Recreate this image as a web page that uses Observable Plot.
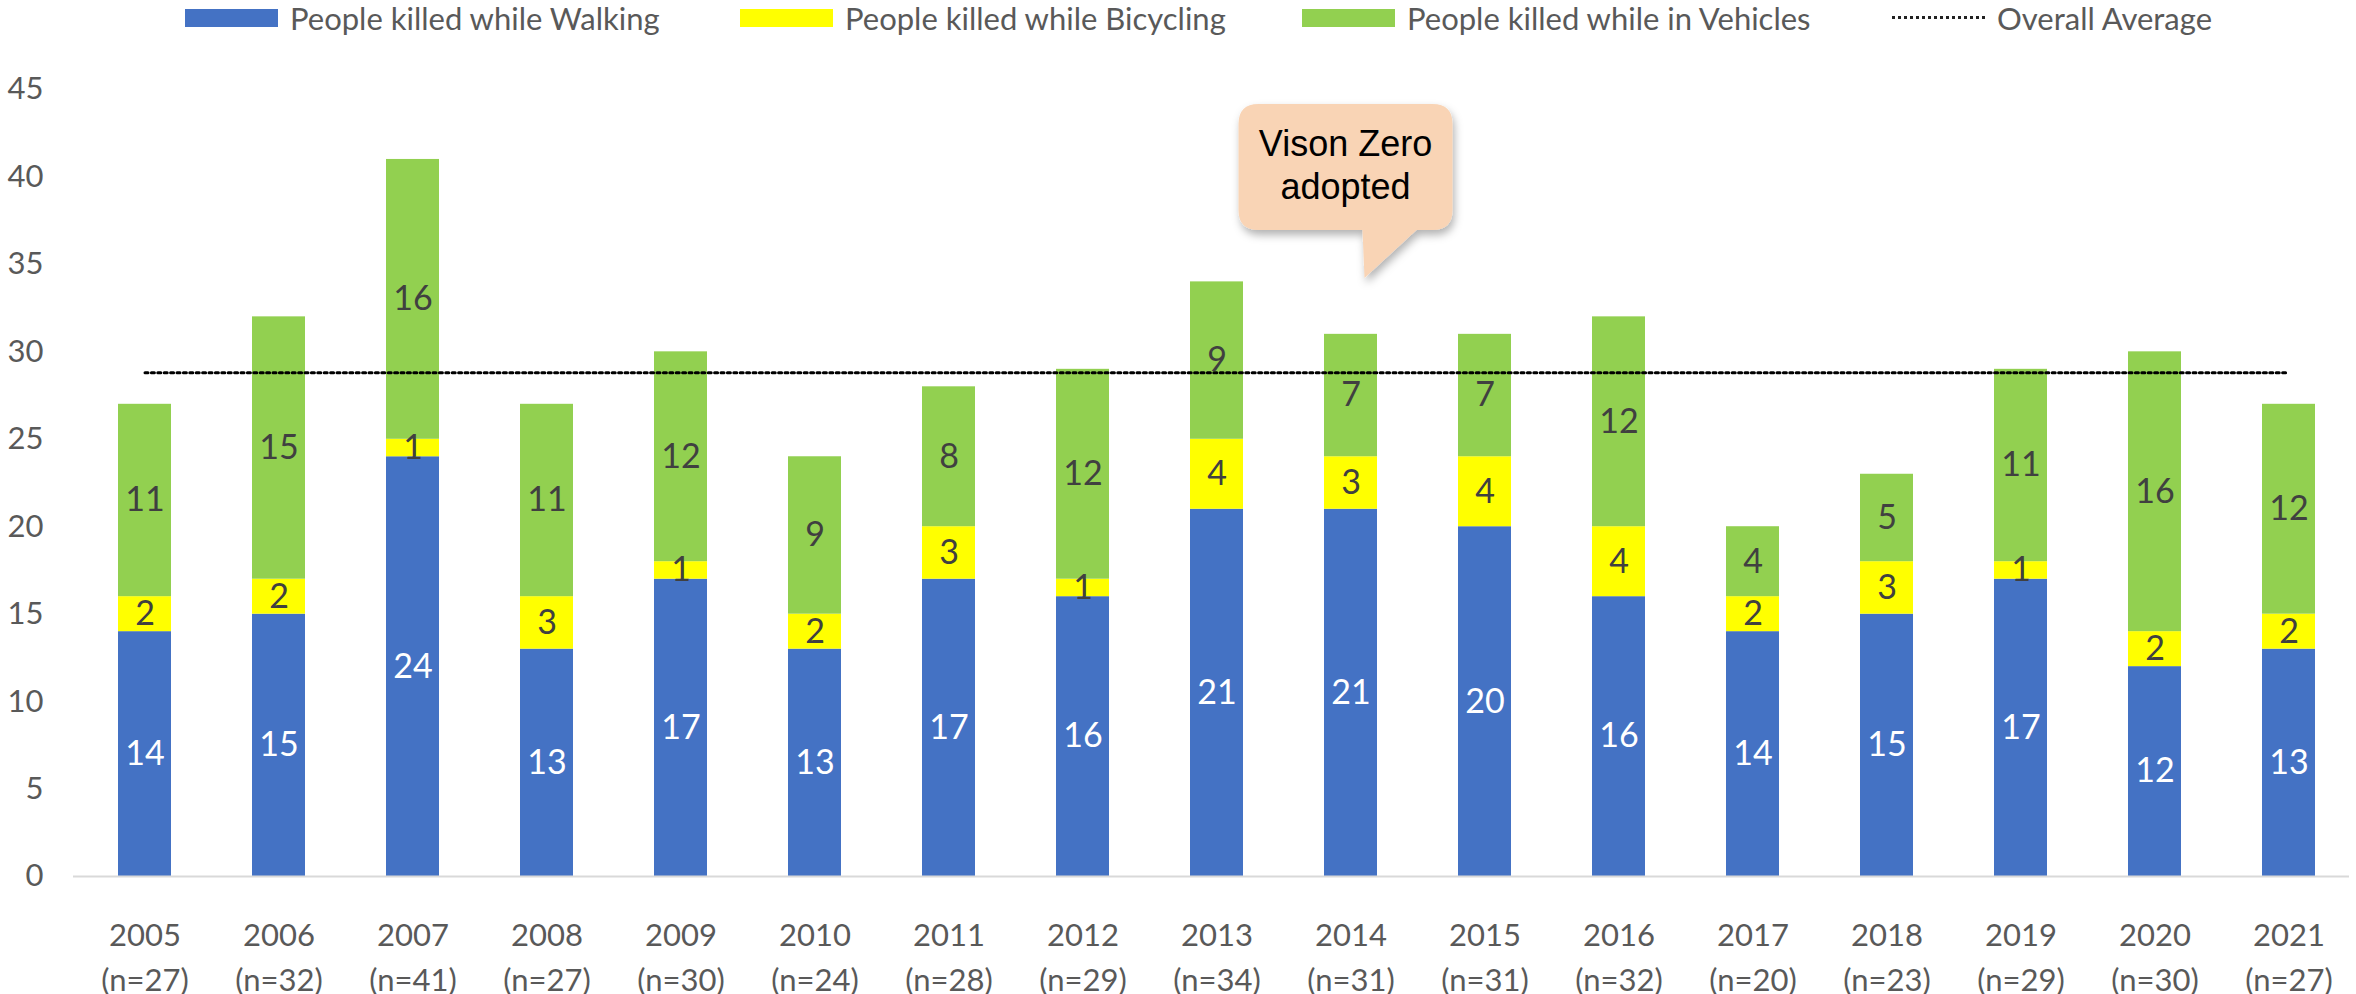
<!DOCTYPE html>
<html><head><meta charset="utf-8">
<script src="https://cdn.jsdelivr.net/npm/d3@7"></script>
<script src="https://cdn.jsdelivr.net/npm/@observablehq/plot@0.6"></script>
<style>
body{margin:0;background:#fff;width:2356px;height:994px;overflow:hidden;font-family:Lato,sans-serif;}
#legend{position:relative;height:50px;width:2356px;}
.sw{position:absolute;top:9px;width:93px;height:18px;}
.lt{position:absolute;top:0;height:36px;line-height:36px;font-size:31px;color:#595959;white-space:nowrap;}
.dl{position:absolute;top:16px;width:93px;height:0;border-top:3px dotted #222;}
#chart svg{display:block;}
</style></head><body>
<div id="legend"></div>
<div id="chart"></div>
<script>
// ---- data ----
const years = ["2005","2006","2007","2008","2009","2010","2011","2012","2013","2014","2015","2016","2017","2018","2019","2020","2021"];
const walking   = [14,15,24,13,17,13,17,16,21,21,20,16,14,15,17,12,13];
const bicycling = [ 2, 2, 1, 3, 1, 2, 3, 1, 4, 3, 4, 4, 2, 3, 1, 2, 2];
const vehicles  = [11,15,16,11,12, 9, 8,12, 9, 7, 7,12, 4, 5,11,16,12];
const totals    = [27,32,41,27,30,24,28,29,34,31,31,32,20,23,29,30,27];
const overallAverage = 28.8;
const seriesNames = ["People killed while Walking","People killed while Bicycling","People killed while in Vehicles"];
const averageName = "Overall Average";
const yTicks = [0,5,10,15,20,25,30,35,40,45];
const calloutYear = "2014";
const calloutLines = ["Vison Zero","adopted"];

// ---- styles ----
const seriesColors = ["#4472C4","#FFFF00","#92D050"];
const labelColors = ["#FFFFFF","#404040","#404040"];

// ---- legend (HTML above the SVG) ----
const legendX = [185, 740, 1302, 1892];
const legend = document.getElementById("legend");
seriesNames.forEach((name, k) => {
  const sw = document.createElement("div");
  sw.className = "sw"; sw.style.left = legendX[k] + "px"; sw.style.background = seriesColors[k];
  legend.appendChild(sw);
  const t = document.createElement("div");
  t.className = "lt"; t.style.left = (legendX[k] + 105) + "px"; t.textContent = name;
  legend.appendChild(t);
});
{
  const dl = document.createElement("div");
  dl.className = "dl"; dl.style.left = legendX[3] + "px";
  legend.appendChild(dl);
  const t = document.createElement("div");
  t.className = "lt"; t.style.left = (legendX[3] + 105) + "px"; t.textContent = averageName;
  legend.appendChild(t);
}

// ---- table for Plot ----
const series = [walking, bicycling, vehicles];
const rows = [];
years.forEach((yr, i) => {
  series.forEach((arr, k) => {
    rows.push({year: yr, series: seriesNames[k], value: arr[i], color: seriesColors[k], labelColor: labelColors[k]});
  });
});

// ---- callout annotation (drawn with the chart's scales) ----
function calloutMark(index, scales) {
  const x = scales.x, y = scales.y;
  const bw = x.bandwidth ? x.bandwidth() : 0;
  const cx = x(calloutYear) + bw / 2;
  const top = y(44.14), bottom = y(36.94), tip = y(34.19);
  const L = cx - 112, R = cx + 102, r = 20;
  const tl = cx + 12, tipX = cx + 14, tr = cx + 66;
  const path = `M${L+r},${top} H${R-r} Q${R},${top} ${R},${top+r} V${bottom-r} Q${R},${bottom} ${R-r},${bottom} H${tr} L${tipX},${tip} L${tl},${bottom} H${L+r} Q${L},${bottom} ${L},${bottom-r} V${top+r} Q${L},${top} ${L+r},${top} Z`;
  const g = d3.create("svg:g");
  const f = g.append("defs").append("filter").attr("id", "callout-shadow")
    .attr("x", "-20%").attr("y", "-20%").attr("width", "140%").attr("height", "140%");
  f.append("feDropShadow").attr("dx", 2).attr("dy", 5).attr("stdDeviation", 4)
    .attr("flood-color", "#000").attr("flood-opacity", 0.3);
  g.append("path").attr("d", path).attr("fill", "#F9D4B5").attr("filter", "url(#callout-shadow)");
  const tx = (L + R) / 2;
  const ly = [y(41.9), y(39.4)];
  calloutLines.forEach((s, i) => {
    g.append("text").attr("x", tx).attr("y", ly[i]).attr("text-anchor", "middle")
      .attr("dominant-baseline", "central")
      .attr("font-family", "'Liberation Sans', Arial, sans-serif").attr("font-size", 36)
      .attr("fill", "#000").text(s);
  });
  return g.node();
}

const chart = Plot.plot({
  width: 2356, height: 944,
  marginLeft: 73, marginRight: 7, marginTop: 39, marginBottom: 118,
  style: {fontFamily: "Lato, sans-serif", background: "white", overflow: "visible"},
  x: {domain: years, range: [73, 2360], paddingInner: 0.606, paddingOuter: 0.3},
  y: {domain: [0, 45]},
  color: {type: "identity"},
  marks: [
    Plot.barY(rows, {x: "year", y: "value", z: "series", fill: "color"}),
    Plot.ruleY([0], {stroke: "#D9D9D9", strokeWidth: 2}),
    Plot.lineY(years, {x: d => d, y: () => overallAverage, stroke: "#000", strokeWidth: 3, strokeDasharray: "3,3.4"}),
    Plot.text(rows, Plot.stackY({x: "year", y: "value", z: "series", text: d => String(d.value), fill: "labelColor", fontSize: 34})),
    Plot.axisY({ticks: yTicks, tickSize: 0, tickPadding: 30, fontSize: 31, color: "#595959", label: null}),
    Plot.axisX({tickSize: 0, tickPadding: 37, fontSize: 31, color: "#595959", label: null, lineHeight: 1.47,
      tickFormat: d => `${d}\n(n=${totals[years.indexOf(d)]})`}),
    calloutMark
  ]
});
document.getElementById("chart").appendChild(chart);
</script>
</body></html>
